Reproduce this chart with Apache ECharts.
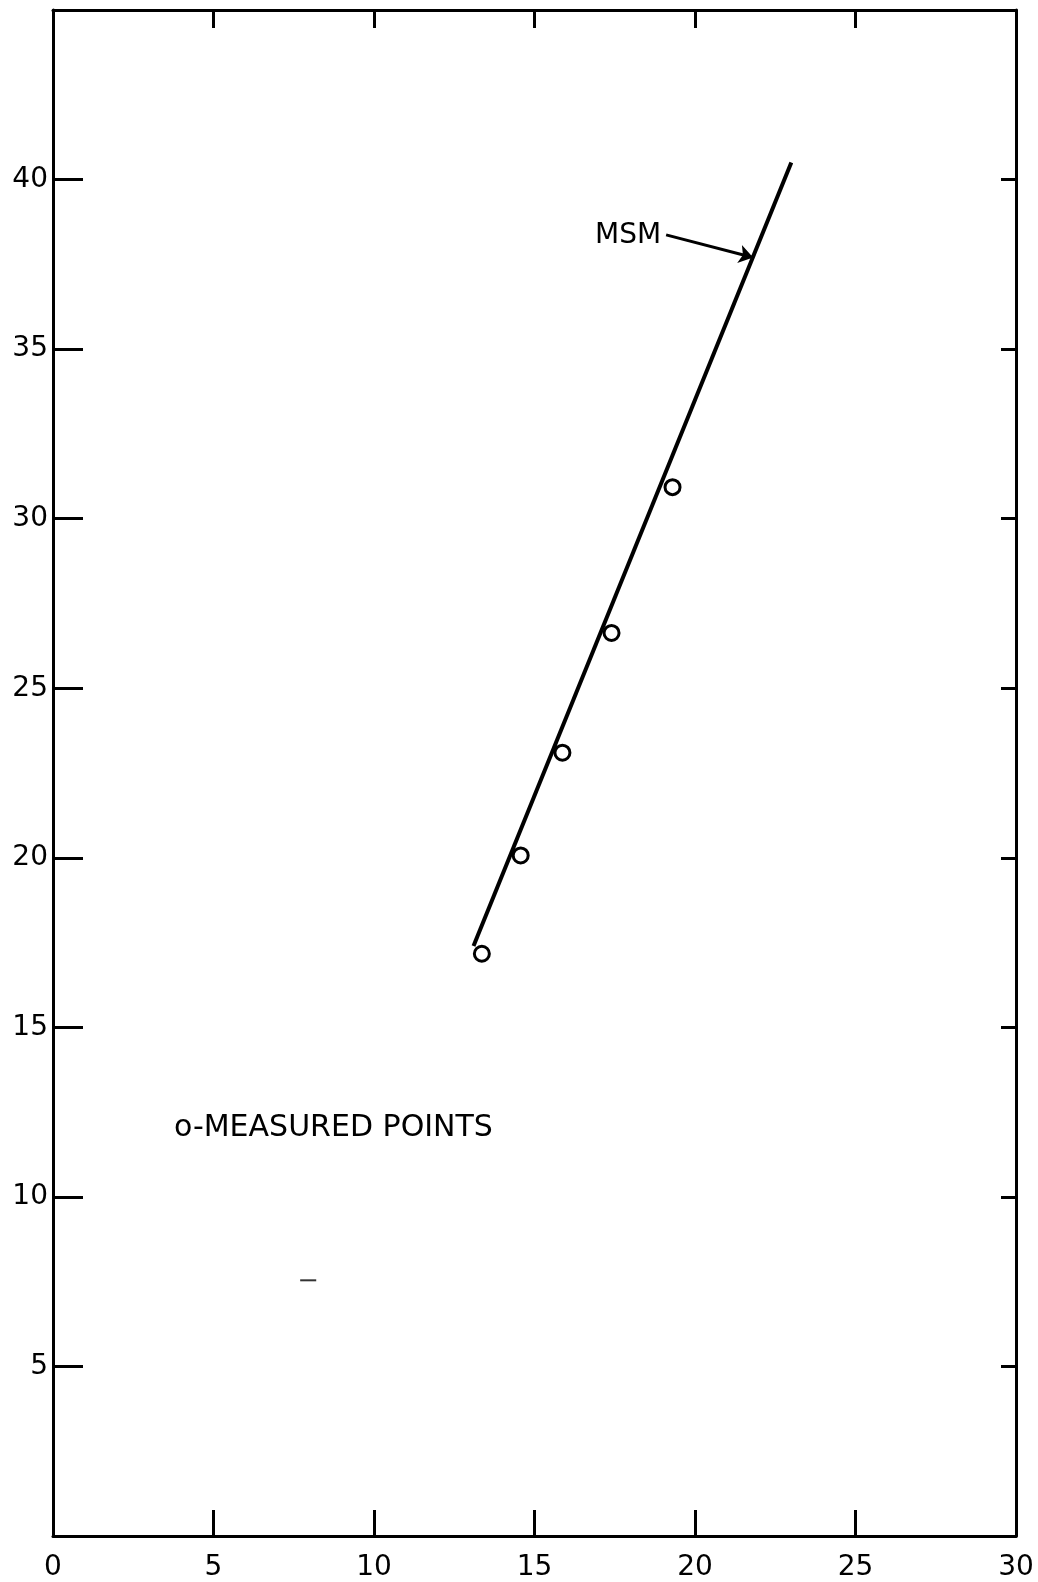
<!DOCTYPE html>
<html>
<head>
<meta charset="utf-8">
<script src="https://cdn.jsdelivr.net/npm/echarts@6/dist/echarts.min.js"></script>
<style>
  html, body { margin: 0; padding: 0; background: #fff; }
  #main { width: 1038px; height: 1582px; }
</style>
</head>
<body>
<div id="main"></div>
<script>
// measured points
const measuredX = [13.36, 14.57, 15.87, 17.40, 19.30];
const measuredY = [17.17, 20.07, 23.10, 26.63, 30.93];

// MSM line end points
const msmX = [13.1, 23.0];
const msmY = [17.4, 40.5];

// arrow from label to the line
const arrowFrom = [19.1, 38.37];
const arrowTo = [21.81, 37.7];

// stray mark on the original sheet
const strayX = [7.7, 8.2];
const strayY = [7.54, 7.54];

const xTicks = [0, 5, 10, 15, 20, 25, 30];
const yTicks = [0, 5, 10, 15, 20, 25, 30, 35, 40, 45];

const font = 'DejaVu Sans';
const ink = '#000';

const chart = echarts.init(document.getElementById('main'));

const axisLine = { show: true, onZero: false, lineStyle: { color: ink, width: 3 } };

const option = {
  animation: false,
  backgroundColor: '#fff',
  grid: { left: 53, right: 22, top: 10, bottom: 45 },
  xAxis: [
    {
      type: 'value', position: 'bottom',
      min: xTicks[0], max: xTicks[xTicks.length - 1], interval: 5,
      axisLine: axisLine,
      axisTick: { show: true, inside: true, length: 26, lineStyle: { color: ink, width: 3 } },
      axisLabel: { show: true, margin: 18, color: ink, fontFamily: font, fontSize: 28 },
      splitLine: { show: false }
    },
    {
      type: 'value', position: 'top',
      min: xTicks[0], max: xTicks[xTicks.length - 1], interval: 5,
      axisLine: axisLine,
      axisTick: { show: true, inside: true, length: 18, lineStyle: { color: ink, width: 3 } },
      axisLabel: { show: false },
      splitLine: { show: false }
    }
  ],
  yAxis: [
    {
      type: 'value', position: 'left',
      min: yTicks[0], max: yTicks[yTicks.length - 1], interval: 5,
      axisLine: axisLine,
      axisTick: { show: true, inside: true, length: 30, lineStyle: { color: ink, width: 3 } },
      axisLabel: {
        show: true, margin: 5, color: ink, fontFamily: font, fontSize: 28,
        formatter: v => (v === 0 || v === 45) ? '' : String(v)
      },
      splitLine: { show: false }
    },
    {
      type: 'value', position: 'right',
      min: yTicks[0], max: yTicks[yTicks.length - 1], interval: 5,
      axisLine: axisLine,
      axisTick: { show: true, inside: true, length: 15, lineStyle: { color: ink, width: 3 } },
      axisLabel: { show: false },
      splitLine: { show: false }
    }
  ],
  series: [
    {
      name: 'MSM',
      type: 'line',
      data: msmX.map((x, i) => [x, msmY[i]]),
      symbol: 'none',
      lineStyle: { color: ink, width: 4 },
      markLine: {
        silent: true,
        symbol: ['none', 'arrow'],
        symbolSize: 14,
        label: { show: false },
        lineStyle: { color: ink, width: 3, type: 'solid' },
        itemStyle: { color: ink },
        data: [[{ coord: arrowFrom }, { coord: arrowTo }]]
      },
      z: 3
    },
    {
      name: 'Measured',
      type: 'scatter',
      data: measuredX.map((x, i) => [x, measuredY[i]]),
      symbol: 'circle',
      symbolSize: 15,
      itemStyle: { color: '#fff', borderColor: ink, borderWidth: 3, opacity: 1 },
      z: 4
    },
    {
      name: 'stray',
      type: 'line',
      data: strayX.map((x, i) => [x, strayY[i]]),
      symbol: 'none',
      lineStyle: { color: '#333', width: 2 }
    }
  ],
  graphic: [
    {
      type: 'text', left: 595, top: 222,
      style: { text: 'MSM', font: '28px "DejaVu Sans"', fill: ink }
    },
    {
      type: 'text', left: 174, top: 1113,
      style: { text: 'o-MEASURED POINTS', font: '30px "DejaVu Sans"', fill: ink }
    }
  ]
};

chart.setOption(option);
</script>
</body>
</html>
